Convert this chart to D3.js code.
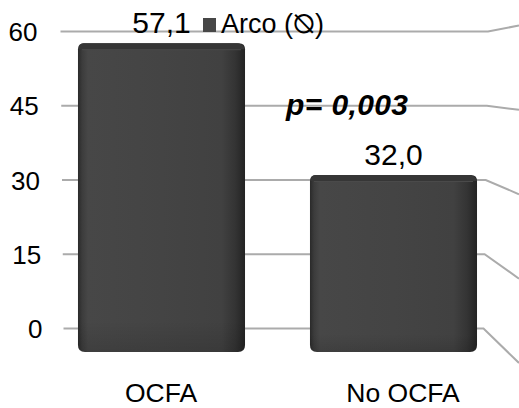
<!DOCTYPE html>
<html>
<head>
<meta charset="utf-8">
<script src="https://cdn.jsdelivr.net/npm/d3@7"></script>
<style>
  html, body { margin: 0; padding: 0; background: #ffffff; }
  svg { display: block; }
  text { font-family: "Liberation Sans", Arial, "DejaVu Sans", sans-serif; fill: #000; }
</style>
</head>
<body>
<div id="chart"></div>
<script>
// Chart data
const categories = ["OCFA", "No OCFA"];
const values = [57.1, 32.0];
const valueLabels = ["57,1", "32,0"];
const tickValues = [0, 15, 30, 45, 60];
const tickLabels = ["0", "15", "30", "45", "60"];
const seriesName = "Arco (\u29B0)";
const pText = "p= 0,003";

const W = 519, H = 408;
const svg = d3.select("#chart").append("svg")
  .attr("width", W).attr("height", H);

// Back wall (gridlines), side wall at the right edge, and the bar fronts
const wallY = d3.scaleLinear().domain([0, 60]).range([328.5, 31.5]);
const wallLeft = d3.scaleLinear().domain([0, 60]).range([63.5, 60.5]);
const cornerX = d3.scaleLinear().domain([0, 60]).range([483.5, 488]);
const sideY = d3.scaleLinear().domain([0, 60]).range([363, 25.5]);
const tickX = d3.scaleLinear().domain([0, 60]).range([42.5, 37.5]);

const barY = d3.scaleLinear().domain([0, 60]).range([343, 28]);
const barX = d3.scaleBand().domain(categories).range([45.5, 509.5])
  .paddingInner(0.28).paddingOuter(0.14);
const floorX = d3.scalePoint().domain(categories).range([161, 403]);
const baseDrop = 9;

// Gradients for the bevelled bars
const defs = svg.append("defs");
const gH = defs.append("linearGradient").attr("id", "barFace")
  .attr("x1", "0").attr("x2", "1").attr("y1", "0").attr("y2", "0");
[[0, "#2a2a2a"], [0.025, "#3c3c3c"], [0.06, "#474747"], [0.5, "#444444"],
 [0.86, "#414141"], [0.94, "#343434"], [1, "#232323"]]
  .forEach(([o, c]) => gH.append("stop").attr("offset", o).attr("stop-color", c));
const gV = defs.append("linearGradient").attr("id", "barShade")
  .attr("x1", "0").attr("x2", "0").attr("y1", "0").attr("y2", "1");
[[0, "#000", 0.0], [0.9, "#000", 0.0], [1, "#000", 0.12]]
  .forEach(([o, c, a]) => gV.append("stop").attr("offset", o)
    .attr("stop-color", c).attr("stop-opacity", a));

// Gridlines: back wall segment plus the receding side-wall segment
const grid = svg.append("g").attr("class", "grid");
grid.selectAll("polyline").data(tickValues).join("polyline")
  .attr("points", d => [
    [wallLeft(d), wallY(d)],
    [cornerX(d), wallY(d)],
    [W, sideY(d)]
  ].map(p => p.join(",")).join(" "))
  .attr("fill", "none")
  .attr("stroke", "#ababab")
  .attr("stroke-width", 2);

// Axis tick labels
svg.append("g").selectAll("text").data(tickValues).join("text")
  .attr("x", d => tickX(d))
  .attr("y", d => wallY(d) + 9.5)
  .attr("text-anchor", "end")
  .attr("font-size", 26)
  .text((d, i) => tickLabels[i]);

// Rounded rectangle path
function roundRect(x, y, w, h, rt, rb) {
  return `M${x + rt},${y}H${x + w - rt}Q${x + w},${y} ${x + w},${y + rt}` +
    `V${y + h - rb}Q${x + w},${y + h} ${x + w - rb},${y + h}` +
    `H${x + rb}Q${x},${y + h} ${x},${y + h - rb}V${y + rt}Q${x},${y} ${x + rt},${y}Z`;
}

const data = categories.map((c, i) => ({ cat: c, v: values[i], label: valueLabels[i] }));
const bars = svg.append("g").selectAll("g").data(data).join("g");

bars.append("path")
  .attr("d", d => {
    const x = barX(d.cat), y = barY(d.v);
    return roundRect(x, y, barX.bandwidth(), barY(0) + baseDrop - y, 6, 7);
  })
  .attr("fill", "url(#barFace)");
bars.append("path")
  .attr("d", d => {
    const x = barX(d.cat), y = barY(d.v);
    return roundRect(x, y, barX.bandwidth(), barY(0) + baseDrop - y, 6, 7);
  })
  .attr("fill", "url(#barShade)");
// top bevel strip
bars.append("path")
  .attr("d", d => {
    const x = barX(d.cat), y = barY(d.v), w = barX.bandwidth();
    return `M${x + 5},${y}H${x + w - 8}Q${x + w - 2},${y} ${x + w},${y + 6}` +
      `H${x + 1}Q${x + 1},${y} ${x + 5},${y}Z`;
  })
  .attr("fill", "#363636");
bars.append("line")
  .attr("x1", d => barX(d.cat) + 4).attr("x2", d => barX(d.cat) + barX.bandwidth() - 4)
  .attr("y1", d => barY(d.v) + 6.5).attr("y2", d => barY(d.v) + 6.5)
  .attr("stroke", "#4a4a4a").attr("stroke-width", 1);

// Value labels
bars.append("text")
  .attr("x", d => barX(d.cat) + barX.bandwidth() / 2)
  .attr("y", d => barY(d.v) - 10.5)
  .attr("text-anchor", "middle")
  .attr("font-size", 30)
  .text(d => d.label);

// Category labels on the floor edge
svg.append("g").selectAll("text").data(categories).join("text")
  .attr("x", d => floorX(d))
  .attr("y", 402)
  .attr("text-anchor", "middle")
  .attr("font-size", 26.5)
  .text(d => d);

// Legend
const legend = svg.append("g");
legend.append("rect")
  .attr("x", 203).attr("y", 18).attr("width", 13).attr("height", 14)
  .attr("fill", "#474747");
legend.append("text")
  .attr("x", 221).attr("y", 33)
  .attr("font-size", 27)
  .text(seriesName);

// Significance annotation
svg.append("text")
  .attr("x", 286).attr("y", 115)
  .attr("font-size", 30)
  .attr("font-weight", "bold")
  .attr("font-style", "italic")
  .attr("letter-spacing", 0.4)
  .text(pText);
</script>
</body>
</html>
